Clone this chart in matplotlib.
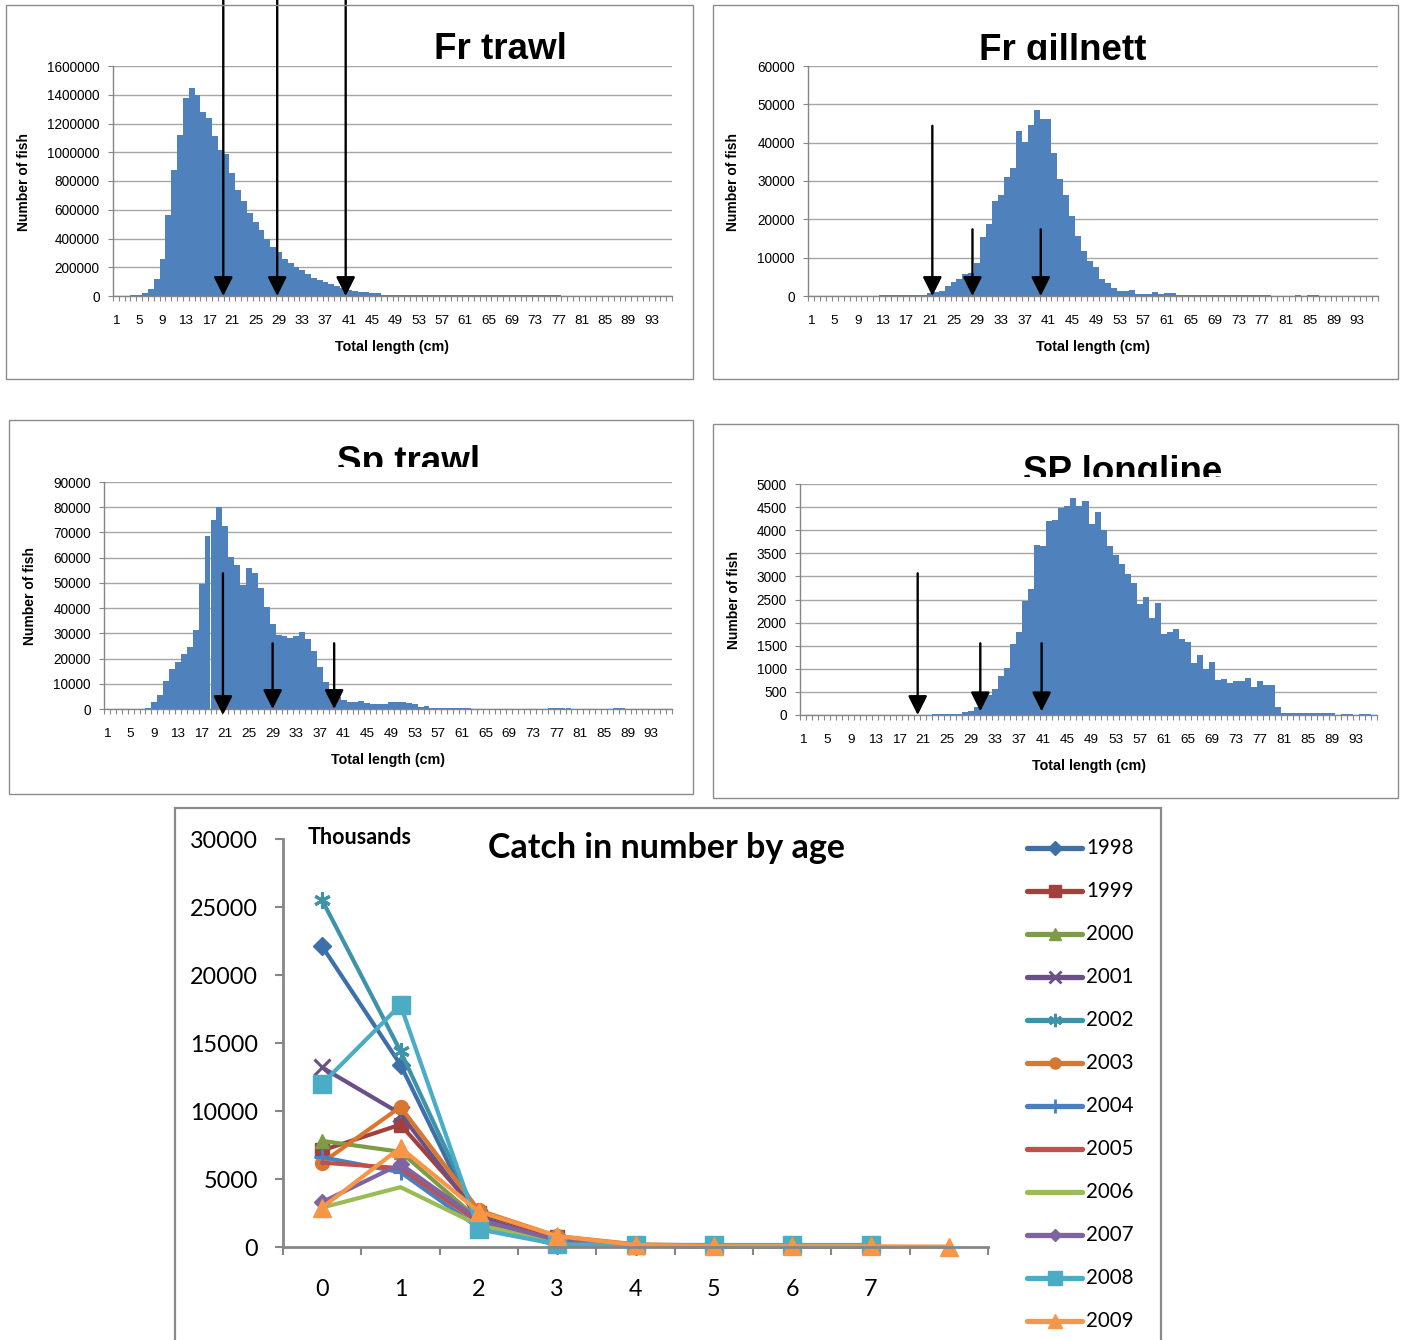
import numpy as np
import matplotlib
matplotlib.use("Agg")
import matplotlib.pyplot as plt
from matplotlib.patches import Rectangle
from matplotlib.lines import Line2D
from matplotlib.transforms import Bbox, TransformedBbox

plt.rcParams['font.family'] = ['Liberation Sans', 'DejaVu Sans']

# ---------------- data ----------------
length_bins = list(range(1, 97))
length_tick_labels = [str(v) for v in range(1, 96, 4)]

fr_trawl = [0, 0, 3000, 5000, 8000, 22000, 46000, 116000, 260000, 566000,
            874000, 1122000, 1380000, 1445000, 1398000, 1280000, 1236000, 1115000, 1016000, 985000,
            858000, 737000, 659000, 580000, 517000, 457000, 399000, 343000, 308000, 260000,
            232000, 199000, 181000, 153000, 123000, 111000, 100000, 81000, 72000, 53000,
            42000, 35000, 30000, 30000, 23000, 23000, 10000, 6000, 6000, 6000,
            6000, 6000, 6000, 6000, 6000, 6000, 6000, 6000, 6000, 6000,
            4000, 4000, 4000, 4000, 4000, 4000, 4000, 4000, 4000, 4000,
            4000, 4000, 4000, 4000, 4000, 4000, 4000, 0, 0, 3000,
            0, 0, 3000, 0, 3000, 0, 0, 0, 3000, 0,
            0, 0, 0, 0, 0, 0]

fr_gillnett = [0, 0, 0, 0, 0, 0, 0, 0, 0, 0,
               0, 0, 300, 300, 300, 300, 300, 300, 300, 300,
               700, 1000, 1200, 2700, 3650, 4350, 5700, 6000, 8700, 15300,
               18800, 24700, 26300, 31000, 33300, 43000, 40300, 44500, 48500, 46100,
               46100, 37300, 30500, 26300, 21000, 15650, 11800, 9200, 7650, 4350,
               3500, 2200, 1200, 1200, 1500, 600, 600, 600, 950, 400,
               700, 700, 300, 300, 300, 300, 300, 300, 300, 300,
               300, 300, 300, 300, 300, 300, 300, 300, 0, 0,
               0, 0, 300, 0, 300, 300, 0, 0, 0, 0,
               0, 0, 0, 0, 0, 0]

sp_trawl = [0, 0, 0, 0, 0, 0, 100, 500, 2600, 5400,
            11100, 16000, 18800, 21800, 24600, 31500, 49700, 68500, 75100, 80000,
            72700, 60400, 57100, 49200, 56000, 53800, 47800, 40600, 33600, 29200,
            28900, 28000, 28900, 30700, 27900, 22900, 16500, 10600, 7100, 4900,
            3600, 2800, 2800, 3200, 2500, 1850, 1850, 1850, 2800, 2800,
            2800, 2400, 2000, 800, 1050, 400, 400, 400, 300, 300,
            300, 300, 0, 0, 0, 0, 0, 0, 0, 0,
            0, 0, 0, 0, 0, 300, 300, 300, 300, 0,
            0, 0, 0, 0, 0, 0, 300, 300, 0, 0,
            0, 0, 0, 0, 0, 0]

sp_longline = [0, 0, 0, 0, 0, 0, 0, 0, 0, 0,
               0, 0, 0, 0, 0, 0, 0, 0, 0, 0,
               0, 0, 20, 20, 20, 20, 20, 58, 87, 166,
               325, 433, 563, 851, 1025, 1537, 1804, 2475, 2720, 3672,
               3658, 4206, 4228, 4473, 4524, 4690, 4524, 4625, 4127, 4387,
               4012, 3658, 3456, 3268, 3045, 2850, 2395, 2561, 2107, 2431,
               1746, 1804, 1854, 1638, 1580, 1133, 1299, 996, 1154, 750,
               786, 693, 743, 729, 808, 613, 736, 649, 649, 180,
               40, 40, 40, 40, 40, 40, 40, 40, 40, 0,
               30, 30, 0, 30, 30, 0]

# arrows: (bin position, tail value, tip value)
fr_trawl_arrows = [(19.44, 2.06e6, 0), (28.7, 2.06e6, 0), (40.46, 2.06e6, 0)]
fr_gillnett_arrows = [(21.44, 44400, 0), (28.2, 17400, 0), (39.7, 17400, 0)]
sp_trawl_arrows = [(20.6, 53800, -2400), (29.0, 26050, 0), (39.4, 26050, 0)]
sp_longline_arrows = [(20.08, 3067, 0), (30.5, 1552, 80), (40.7, 1552, 80)]

ages = [0, 1, 2, 3, 4, 5, 6, 7, 8]
age_labels = ['0', '1', '2', '3', '4', '5', '6', '7', '']
years = ['1998', '1999', '2000', '2001', '2002', '2003',
         '2004', '2005', '2006', '2007', '2008', '2009']
nan = float('nan')
catch_1998 = [22100, 13400, 1600, 150, 100, 50, 50, 50, nan]
catch_1999 = [7100, 9000, 2500, 700, 150, 80, 50, 50, nan]
catch_2000 = [7800, 7000, 2000, 400, 100, 50, 50, 50, nan]
catch_2001 = [13200, 9800, 2200, 400, 100, 50, 50, 50, nan]
catch_2002 = [25500, 14400, 2000, 300, 100, 50, 50, 50, nan]
catch_2003 = [6200, 10300, 2700, 800, 200, 100, 50, 50, nan]
catch_2004 = [6600, 5500, 1400, 300, 100, 50, 50, 50, nan]
catch_2005 = [6200, 5800, 1800, 400, 100, 50, 50, 50, nan]
catch_2006 = [2900, 4400, 1600, 400, 100, 50, 50, 50, nan]
catch_2007 = [3300, 6100, 2000, 500, 100, 50, 50, 50, nan]
catch_2008 = [12000, 17800, 1300, 200, 150, 150, 150, 150, nan]
catch_2009 = [2900, 7300, 2600, 800, 150, 50, 50, 50, 30]

# ---------------- layout ----------------
W, H = 1403, 1340
fig = plt.figure(figsize=(W / 100, H / 100), dpi=100)


def fx(p):
    return p / W


def fy(p):
    return 1 - p / H


def frame(x0, y0, x1, y1, lw=1.0, color='#8C8C8C'):
    fig.add_artist(Rectangle((fx(x0), fy(y1)), fx(x1) - fx(x0), (y1 - y0) / H,
                             transform=fig.transFigure, fill=False,
                             edgecolor=color, linewidth=lw, clip_on=False))


GRAY = '#868686'
BAR = '#4F81BD'


def hist_panel(rect, values, ymax, ystep, title, title_x, title_base, clip_y,
               arrows, ylab_xy, xlab_xy):
    x0, y0, x1, y1 = rect
    ax = fig.add_axes([fx(x0), fy(y1), fx(x1) - fx(x0), (y1 - y0) / H])
    ax.bar(length_bins, values, width=1.0, color=BAR, linewidth=0, zorder=2)
    ax.set_xlim(0.5, 96.5)
    ax.set_ylim(0, ymax)
    ax.set_yticks(np.arange(0, ymax + 1, ystep))
    ax.set_yticklabels([str(int(v)) for v in np.arange(0, ymax + 1, ystep)])
    ax.yaxis.grid(True, color='#A6A6A6', linewidth=1.0, zorder=0)
    ax.set_axisbelow(True)
    for s in ['top', 'right']:
        ax.spines[s].set_visible(False)
    for s in ['left', 'bottom']:
        ax.spines[s].set_color(GRAY)
        ax.spines[s].set_linewidth(1.0)
    ax.set_xticks(list(range(1, 96, 4)))
    ax.set_xticklabels(length_tick_labels)
    ax.set_xticks(np.arange(0.5, 97, 1.0), minor=True)
    ax.tick_params(axis='x', which='major', length=0, pad=13.5, labelsize=9.7)
    ax.tick_params(axis='x', which='minor', length=3.5, color=GRAY, width=0.8)
    ax.tick_params(axis='y', which='major', length=3.5, color=GRAY, pad=6,
                   labelsize=9.8, width=0.8)
    for (xp, tail, tip) in arrows:
        ax.annotate('', xy=(xp, tip), xytext=(xp, tail),
                    arrowprops=dict(arrowstyle='-|>,head_length=0.58,head_width=0.29',
                                    mutation_scale=20, lw=1.7, color='black',
                                    shrinkA=0, shrinkB=0),
                    annotation_clip=False, zorder=5)
    t = fig.text(fx(title_x), fy(title_base), title, ha='center', va='baseline',
                 fontsize=26.5, fontweight='bold')
    if clip_y is not None:
        t.set_clip_box(TransformedBbox(Bbox.from_extents(0, fy(clip_y), 1, 1),
                                       fig.transFigure))
        t.set_clip_on(True)
    fig.text(fx(ylab_xy[0]), fy(ylab_xy[1]), 'Number of fish', rotation=90,
             ha='center', va='center', fontsize=10, fontweight='bold')
    fig.text(fx(xlab_xy[0]), fy(xlab_xy[1]), 'Total length (cm)',
             ha='center', va='center', fontsize=10.3, fontweight='bold')
    return ax


# panel frames
frame(6, 5, 693, 379)
frame(713, 5, 1398, 379)
frame(9, 420, 693, 794)
frame(713, 424, 1398, 798)

hist_panel((113, 66, 672, 296), fr_trawl, 1600000, 200000, 'Fr trawl', 500, 59, None,
           fr_trawl_arrows, (24, 182), (392, 347))
hist_panel((808, 66, 1378, 296), fr_gillnett, 60000, 10000, 'Fr gillnett', 1063, 59.5, 60,
           fr_gillnett_arrows, (733, 182), (1093, 347))
hist_panel((104, 482, 672, 709), sp_trawl, 90000, 10000, 'Sp trawl', 409, 472, 467,
           sp_trawl_arrows, (30, 596), (388, 760))
hist_panel((800, 484, 1377, 715), sp_longline, 5000, 500, 'SP longline', 1123, 482, 477,
           sp_longline_arrows, (734, 600), (1089, 766))

# ---------------- bottom line chart ----------------
frame(175, 808, 1161, 1360, lw=1.6, color='#8A8A8A')
LFONT = ['Lato', 'DejaVu Sans']

ax = fig.add_axes([fx(283), fy(1247), fx(988) - fx(283), (1247 - 839) / H])
series = [catch_1998, catch_1999, catch_2000, catch_2001, catch_2002, catch_2003,
          catch_2004, catch_2005, catch_2006, catch_2007, catch_2008, catch_2009]
colors = ['#3D6FA8', '#A4403C', '#7E9C45', '#6A5088', '#3E93A8', '#D9772E',
          '#4A7FC0', '#C0504D', '#9BBB59', '#8064A2', '#4BACC6', '#F79646']
markers = ['D', 's', '^', 'x', (6, 2, 0), 'o', '+', None, None, 'D', 's', '^']
msizes = [9, 10, 10, 11, 12, 10, 12, 0, 0, 8, 13, 13]

for vals, c, m, ms, lab in zip(series, colors, markers, msizes, years):
    ax.plot(ages, vals, color=c, lw=3.0, marker=m, markersize=ms,
            markeredgewidth=2.2 if m in ('x', '+', (6, 2, 0)) else 1,
            markeredgecolor=c, markerfacecolor=c, label=lab, clip_on=False,
            solid_joinstyle='round', solid_capstyle='round')

ax.set_xlim(-0.5, 8.5)
ax.set_ylim(0, 30000)
ax.set_yticks(np.arange(0, 30001, 5000))
ax.set_yticklabels([str(v) for v in range(0, 30001, 5000)], family=LFONT, fontsize=16.8)
ax.set_xticks(ages)
ax.set_xticklabels(age_labels, family=LFONT, fontsize=16.8)
ax.set_xticks(np.arange(-0.5, 8.6, 1.0), minor=True)
for s in ['top', 'right']:
    ax.spines[s].set_visible(False)
for s in ['left', 'bottom']:
    ax.spines[s].set_color(GRAY)
    ax.spines[s].set_linewidth(2.0)
ax.tick_params(axis='y', which='major', length=6, width=1.5, color=GRAY, pad=12)
ax.tick_params(axis='x', which='major', length=0, pad=23)
ax.tick_params(axis='x', which='minor', length=6, width=1.5, color=GRAY)

fig.text(fx(360), fy(838), 'Thousands', ha='center', va='center', family=LFONT,
         fontsize=15.5, fontweight='bold')
fig.text(fx(666), fy(848), 'Catch in number by age', ha='center', va='center',
         family=LFONT, fontsize=24.5, fontweight='bold')

# legend (drawn entry by entry)
for i, (c, m, ms, lab) in enumerate(zip(colors, markers, msizes, years)):
    yy = fy(848 + i * 43.0)
    ln = Line2D([fx(1027), fx(1054.5), fx(1082)], [yy, yy, yy], transform=fig.transFigure,
                color=c, lw=3.8, marker=m, markersize=ms * 0.8, markevery=[1],
                markeredgecolor=c, markerfacecolor=c,
                markeredgewidth=2 if m in ('x', '+', (6, 2, 0)) else 1,
                solid_capstyle='round')
    fig.add_artist(ln)
    fig.text(fx(1086), yy, lab, ha='left', va='center', family=LFONT, fontsize=14.8)

fig.savefig('out.png', dpi=100)
